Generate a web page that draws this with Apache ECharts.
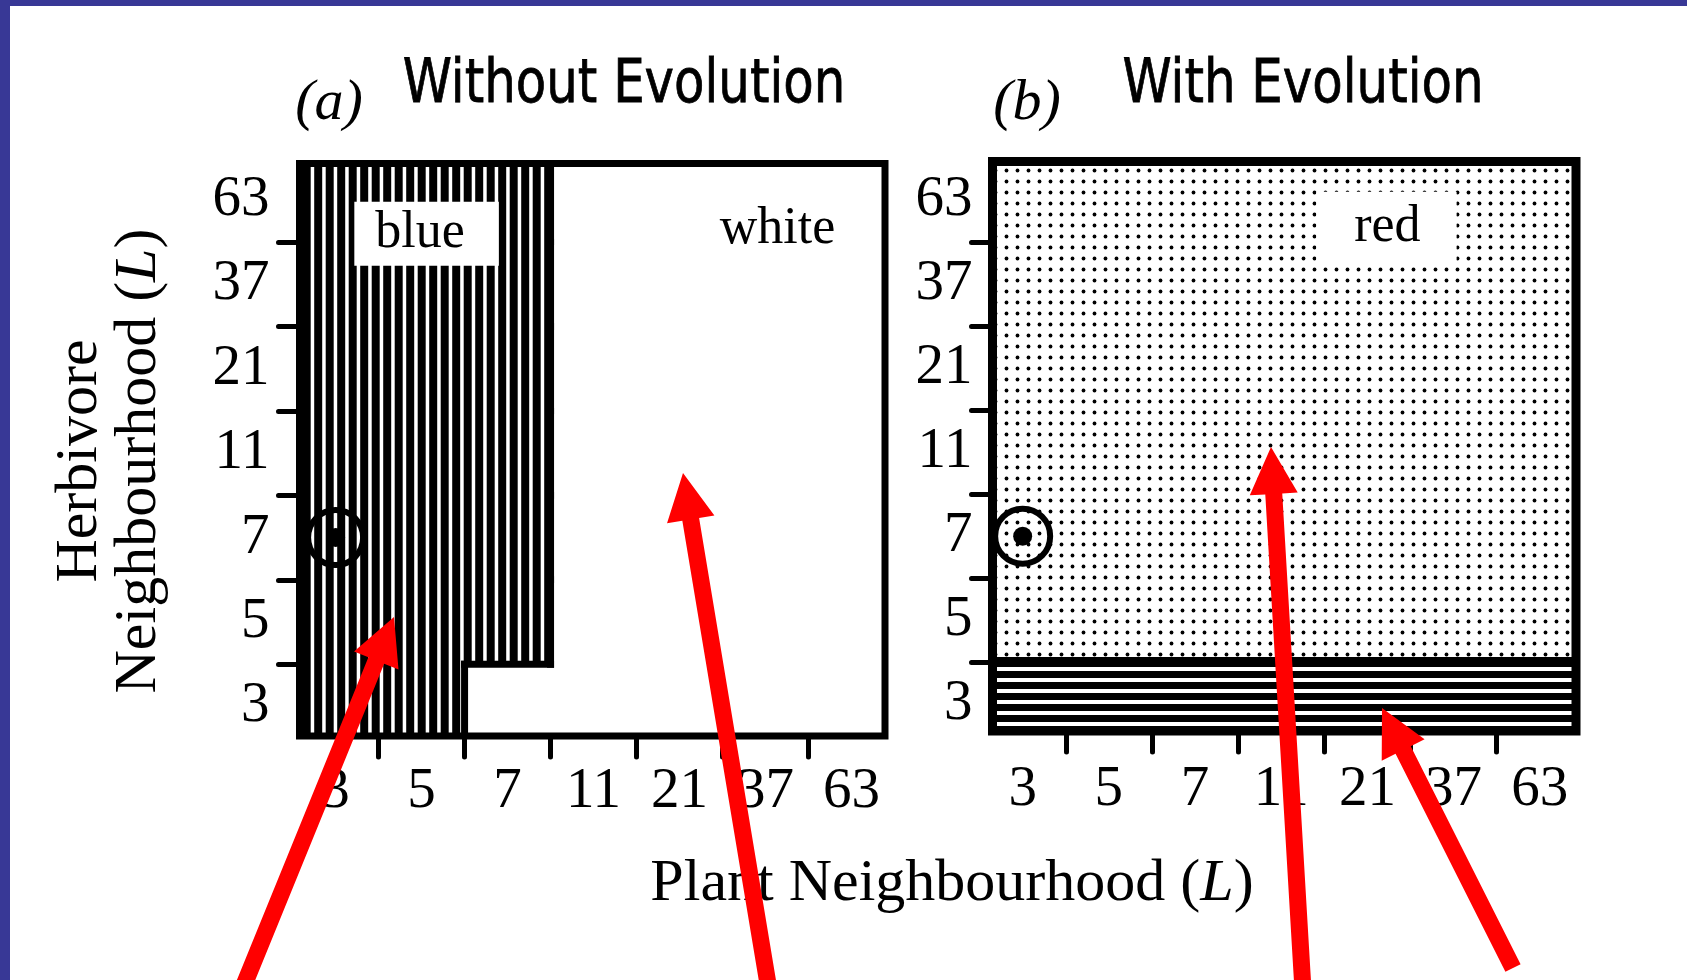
<!DOCTYPE html>
<html>
<head>
<meta charset="utf-8">
<title>Plant and herbivore neighbourhood outcomes</title>
<script src="https://cdn.jsdelivr.net/npm/echarts@6.0.0/dist/echarts.min.js"></script>
<style>
  html, body { margin: 0; padding: 0; background: #ffffff; }
  #chart { width: 1687px; height: 980px; }
</style>
</head>
<body>
<div id="chart"></div>
<script>
// Neighbourhood sizes (L) along each axis
const plantL = ['3', '5', '7', '11', '21', '37', '63'];
const herbivoreL = ['3', '5', '7', '11', '21', '37', '63'];

// Outcome of each run: one row per herbivore L (from L = 3 upwards), one entry per plant L
const outcomeWithoutEvolution = [
  ['blue', 'blue', 'white', 'white', 'white', 'white', 'white'],
  ['blue', 'blue', 'blue', 'white', 'white', 'white', 'white'],
  ['blue', 'blue', 'blue', 'white', 'white', 'white', 'white'],
  ['blue', 'blue', 'blue', 'white', 'white', 'white', 'white'],
  ['blue', 'blue', 'blue', 'white', 'white', 'white', 'white'],
  ['blue', 'blue', 'blue', 'white', 'white', 'white', 'white'],
  ['blue', 'blue', 'blue', 'white', 'white', 'white', 'white']
];
const outcomeWithEvolution = [
  ['hatched', 'hatched', 'hatched', 'hatched', 'hatched', 'hatched', 'hatched'],
  ['red', 'red', 'red', 'red', 'red', 'red', 'red'],
  ['red', 'red', 'red', 'red', 'red', 'red', 'red'],
  ['red', 'red', 'red', 'red', 'red', 'red', 'red'],
  ['red', 'red', 'red', 'red', 'red', 'red', 'red'],
  ['red', 'red', 'red', 'red', 'red', 'red', 'red'],
  ['red', 'red', 'red', 'red', 'red', 'red', 'red']
];

// Starting configuration (plant L, herbivore L), marked with a ring
const startState = [['3', '7']];

// Region names printed inside the panels: plant L, herbivore L, text
const regionNamesWithout = [['5', '63', 'blue'], ['37', '63', 'white']];
const regionNamesWith = [['21', '63', 'red']];

// ---------------------------------------------------------------------------
const chart = echarts.init(document.getElementById('chart'), null, { renderer: 'canvas' });

function makePattern(w, h, draw) {
  const c = document.createElement('canvas');
  c.width = w; c.height = h;
  const ctx = c.getContext('2d');
  draw(ctx, w, h);
  return { image: c, repeat: 'repeat' };
}

// Hatching used for each outcome
const fillOf = {
  blue: makePattern(23, 8, (ctx, w, h) => {
    ctx.fillStyle = '#000'; ctx.fillRect(0, 0, w, h);
    ctx.fillStyle = '#fff'; ctx.fillRect(0.2, 0, 3.5, h); ctx.fillRect(11.7, 0, 3.5, h);
  }),
  white: '#ffffff',
  red: makePattern(11, 11, (ctx, w, h) => {
    ctx.fillStyle = '#fff'; ctx.fillRect(0, 0, w, h);
    ctx.fillStyle = '#000'; ctx.beginPath(); ctx.arc(5.5, 5.5, 1.9, 0, Math.PI * 2); ctx.fill();
  }),
  hatched: makePattern(8, 11, (ctx, w, h) => {
    ctx.fillStyle = '#fff'; ctx.fillRect(0, 0, w, h);
    ctx.fillStyle = '#000'; ctx.fillRect(0, 0, w, 7);
  })
};

function cellsOf(grid) {
  const out = [];
  grid.forEach((row, r) => row.forEach((code, c) => out.push({ value: [c, r], code })));
  return out;
}

// Boundaries between cells of different outcome: [col, row, side] (0 = right edge, 1 = top edge)
function edgesOf(grid) {
  const out = [];
  for (let r = 0; r < grid.length; r++) {
    for (let c = 0; c < grid[r].length; c++) {
      if (c + 1 < grid[r].length && grid[r][c] !== grid[r][c + 1]) out.push([c, r, 0]);
      if (r + 1 < grid.length && grid[r][c] !== grid[r + 1][c]) out.push([c, r, 1]);
    }
  }
  return out;
}

function renderCell(cells) {
  return (params, api) => {
    const c = api.value(0), r = api.value(1);
    const p0 = api.coord([c - 0.5, r + 0.5]);
    const p1 = api.coord([c + 0.5, r - 0.5]);
    const pad = 0.6;
    return {
      type: 'rect',
      shape: { x: p0[0] - pad, y: p0[1] - pad, width: p1[0] - p0[0] + 2 * pad, height: p1[1] - p0[1] + 2 * pad },
      style: { fill: fillOf[cells[params.dataIndex].code] }
    };
  };
}

function renderEdge(width) {
  return (params, api) => {
    const c = api.value(0), r = api.value(1), side = api.value(2);
    const a = side === 0 ? api.coord([c + 0.5, r - 0.5]) : api.coord([c - 0.5, r + 0.5]);
    const b = api.coord([c + 0.5, r + 0.5]);
    return {
      type: 'line',
      shape: { x1: a[0], y1: a[1], x2: b[0], y2: b[1] },
      style: { stroke: '#000', lineWidth: width, lineCap: 'square' }
    };
  };
}

const serif = 'Liberation Serif';
const plantIdx = plantL.map((_, i) => i);
const herbIdx = herbivoreL.map((_, i) => i);
const plantBounds = plantL.slice(1).map((_, i) => i + 0.5);
const herbBounds = herbivoreL.slice(1).map((_, i) => i + 0.5);

function xAxisFor(gridIndex, min, max, margin) {
  return {
    type: 'value', gridIndex, min, max,
    axisLine: { show: false, onZero: false },
    splitLine: { show: false },
    axisTick: { show: true, customValues: plantBounds, length: 21, lineStyle: { color: '#000', width: 5, cap: 'round' } },
    axisLabel: {
      customValues: plantIdx, formatter: v => plantL[Math.round(v)],
      margin, color: '#000', fontFamily: serif, fontSize: 57
    }
  };
}
function yAxisFor(gridIndex, min, max, margin) {
  return {
    type: 'value', gridIndex, min, max,
    axisLine: { show: false, onZero: false },
    splitLine: { show: false },
    axisTick: { show: true, customValues: herbBounds, length: 21, lineStyle: { color: '#000', width: 5, cap: 'round' } },
    axisLabel: {
      customValues: herbIdx, formatter: v => herbivoreL[Math.round(v)],
      margin, color: '#000', fontFamily: serif, fontSize: 57, padding: [12, 0, 0, 0]
    }
  };
}

const labelLook = {
  blue: { offset: [5, 34], backgroundColor: '#fff', padding: [3, 34, 9, 21] },
  white: { offset: [12, 30] },
  red: { offset: [19, 27], backgroundColor: '#fff', padding: [9, 36, 10, 38] }
};

function panelSeries(k, outcome, names, edgeWidth) {
  const cells = cellsOf(outcome);
  const start = startState.map(([p, h]) => [plantL.indexOf(p), herbivoreL.indexOf(h)]);
  return [
    {
      type: 'custom', xAxisIndex: k, yAxisIndex: k, clip: true, silent: true, z: 2,
      data: cells.map(d => d.value), renderItem: renderCell(cells)
    },
    {
      type: 'custom', xAxisIndex: k, yAxisIndex: k, clip: true, silent: true, z: 3,
      data: edgesOf(outcome), renderItem: renderEdge(edgeWidth)
    },
    {
      type: 'scatter', xAxisIndex: k, yAxisIndex: k, silent: true, z: 4,
      symbol: 'circle', symbolSize: 55,
      itemStyle: { color: 'rgba(0,0,0,0)', borderColor: '#000', borderWidth: 6, opacity: 1 },
      data: start
    },
    {
      type: 'scatter', xAxisIndex: k, yAxisIndex: k, silent: true, z: 4,
      symbol: 'circle', symbolSize: 19, itemStyle: { color: '#000', opacity: 1 },
      data: start
    },
    {
      type: 'scatter', xAxisIndex: k, yAxisIndex: k, silent: true, z: 6,
      symbolSize: 0.1, itemStyle: { color: 'rgba(0,0,0,0)', opacity: 1 },
      label: {
        show: true, position: 'inside', formatter: '{b}', color: '#000', opacity: 1,
        fontFamily: serif, fontSize: 52, lineHeight: 52
      },
      data: names.map(([p, h, text]) => ({
        name: text,
        value: [plantL.indexOf(p), herbivoreL.indexOf(h)],
        label: labelLook[text]
      }))
    }
  ];
}

// Hand-drawn pointer arrows laid over the figure
const pointerArrows = [
  { from: [242, 990], to: [394, 617] },
  { from: [769, 990], to: [683, 473] },
  { from: [1303, 990], to: [1271, 447] },
  { from: [1513, 968], to: [1382, 708] }
];
function arrowPolygon(from, to, shaft, headLen, headW) {
  const dx = to[0] - from[0], dy = to[1] - from[1];
  const len = Math.hypot(dx, dy);
  const ux = dx / len, uy = dy / len, px = -uy, py = ux;
  const bx = to[0] - ux * headLen, by = to[1] - uy * headLen;
  return [
    [from[0] + px * shaft / 2, from[1] + py * shaft / 2],
    [bx + px * shaft / 2, by + py * shaft / 2],
    [bx + px * headW / 2, by + py * headW / 2],
    [to[0], to[1]],
    [bx - px * headW / 2, by - py * headW / 2],
    [bx - px * shaft / 2, by - py * shaft / 2],
    [from[0] - px * shaft / 2, from[1] - py * shaft / 2]
  ];
}

const richName = {
  n: { fontFamily: serif, fontSize: 60, lineHeight: 59, fill: '#000' },
  i: { fontFamily: serif, fontSize: 60, lineHeight: 59, fontStyle: 'italic', fill: '#000' }
};

const graphics = [
  // slide frame
  { type: 'rect', z: 100, silent: true, shape: { x: 0, y: 0, width: 1687, height: 6 }, style: { fill: '#383896' } },
  { type: 'rect', z: 100, silent: true, shape: { x: 0, y: 0, width: 10, height: 980 }, style: { fill: '#383896' } },
  // panel headings
  { type: 'text', z: 50, x: 329, y: 104, style: { text: '(a)', fontFamily: serif, fontStyle: 'italic', fontSize: 58, fill: '#000', align: 'center', verticalAlign: 'middle' } },
  { type: 'text', z: 50, x: 624, y: 86, scaleX: 0.83, style: { text: 'Without Evolution', fontFamily: 'DejaVu Sans', fontSize: 60, fill: '#000', stroke: '#000', lineWidth: 0.8, align: 'center', verticalAlign: 'middle' } },
  { type: 'text', z: 50, x: 1027, y: 104, style: { text: '(b)', fontFamily: serif, fontStyle: 'italic', fontSize: 58, fill: '#000', align: 'center', verticalAlign: 'middle' } },
  { type: 'text', z: 50, x: 1303, y: 86, scaleX: 0.83, style: { text: 'With Evolution', fontFamily: 'DejaVu Sans', fontSize: 60, fill: '#000', stroke: '#000', lineWidth: 0.8, align: 'center', verticalAlign: 'middle' } },
  // axis titles
  { type: 'text', z: 50, x: 952, y: 884, style: { text: '{n|Plant Neighbourhood (}{i|L}{n|)}', rich: richName, fontFamily: serif, fontSize: 60, fill: '#000', align: 'center', verticalAlign: 'middle' } },
  { type: 'text', z: 50, x: 110, y: 461, rotation: Math.PI / 2, style: { text: '{n|Herbivore}\n{n|Neighbourhood (}{i|L}{n|)}', rich: richName, fontFamily: serif, fontSize: 60, lineHeight: 59, fill: '#000', align: 'center', verticalAlign: 'middle' } }
].concat(pointerArrows.map(a => ({
  type: 'polygon', z: 120, silent: true,
  shape: { points: arrowPolygon(a.from, a.to, 17, 47, 48) },
  style: { fill: '#ff0000' }
})));

chart.setOption({
  animation: false,
  backgroundColor: '#ffffff',
  grid: [
    { left: 299.5, top: 163.5, width: 585.5, height: 572.5, show: true, z: 10, backgroundColor: 'rgba(0,0,0,0)', borderColor: '#000', borderWidth: 7, containLabel: false, outerBoundsMode: 'none' },
    { left: 992.5, top: 161.5, width: 583.5, height: 569.5, show: true, z: 10, backgroundColor: 'rgba(0,0,0,0)', borderColor: '#000', borderWidth: 9, containLabel: false, outerBoundsMode: 'none' }
  ],
  xAxis: [xAxisFor(0, -0.42, 6.39, 28), xAxisFor(1, -0.35, 6.42, 31)],
  yAxis: [yAxisFor(0, -0.35, 6.43, 30), yAxisFor(1, -0.32, 6.46, 20)],
  series: panelSeries(0, outcomeWithoutEvolution, regionNamesWithout, 7)
    .concat(panelSeries(1, outcomeWithEvolution, regionNamesWith, 10)),
  graphic: graphics
});
</script>
</body>
</html>
